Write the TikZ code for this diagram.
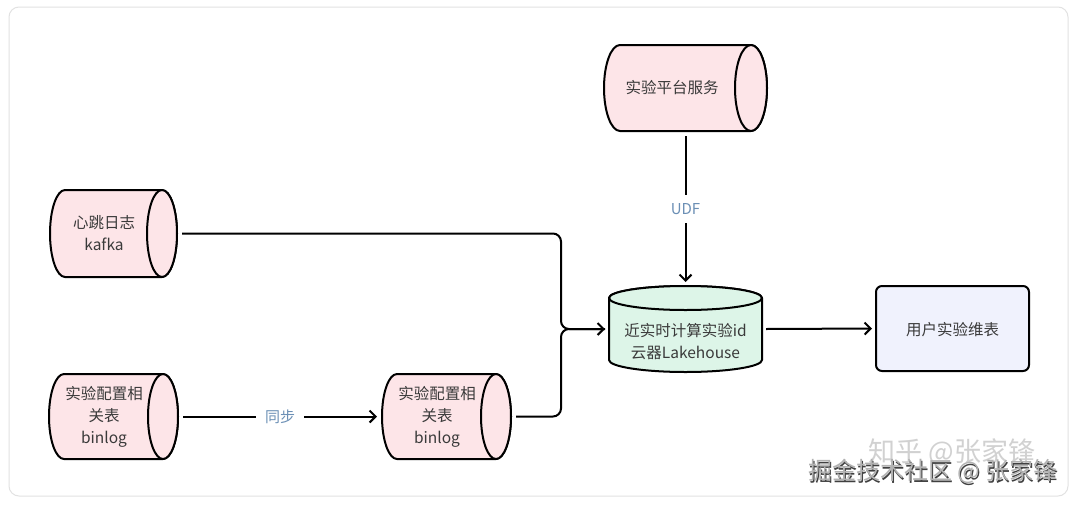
\documentclass[tikz,border=0pt]{standalone}
\usepackage{fontspec}
\setmainfont{Noto Sans CJK SC}
\usetikzlibrary{arrows.meta}
\definecolor{pinkfill}{HTML}{FDE5E8}
\definecolor{greenfill}{HTML}{DDF5E8}
\definecolor{lavfill}{HTML}{F0F2FD}
\definecolor{txt}{HTML}{3A3A3A}
\definecolor{lblc}{HTML}{6B8FB5}
\definecolor{framec}{HTML}{E2E2E2}
\tikzset{
  cylline/.style={draw=black, line width=2pt, line join=round},
  conn/.style={draw=black, line width=2pt, -{Straight Barb[length=6pt,width=12pt]}},
  plainconn/.style={draw=black, line width=2pt},
  lbl/.style={fill=white, text=lblc, font=\fontsize{15}{17}\selectfont, inner xsep=9pt, inner ysep=8pt},
  txtnode/.style={text=txt, align=center, font=\fontsize{15.5}{22}\selectfont, inner sep=0pt},
  anchorbox/.style={inner sep=0pt, outer sep=5pt}
}
% #1 name, #2 x0, #3 y0, #4 x1, #5 y1, #6 fill, #7 rx
\newcommand\hcyl[7]{%
  \pgfmathsetmacro\cxa{#2+#7}%
  \pgfmathsetmacro\cxb{#4-#7}%
  \pgfmathsetmacro\cym{(#3+#5)/2}%
  \pgfmathsetmacro\cry{(#5-#3)/2}%
  \pgfmathsetmacro\cxm{(#2+#4)/2}%
  \draw[cylline, fill=#6] (\cxa,#3) -- (\cxb,#3)
     arc[start angle=-90, end angle=90, x radius=#7, y radius=\cry]
     -- (\cxa,#5)
     arc[start angle=90, end angle=270, x radius=#7, y radius=\cry] -- cycle;
  \draw[cylline, fill=#6] (\cxb,\cym) ellipse[x radius=#7, y radius=\cry];
  \node[anchorbox, minimum width=#4-#2, minimum height=#5-#3] (#1) at (\cxm,\cym) {};
}
\begin{document}
\begin{tikzpicture}[x=1pt,y=-1pt]
\useasboundingbox (0,0) rectangle (1080,504);
\fill[white] (0,0) rectangle (1080,504);
\draw[framec, line width=1pt, rounded corners=10] (9,7) rectangle (1068,496);

% watermarks
\node[text=black!18, font=\fontsize{27}{27}\selectfont, anchor=center] (wm1) at (952,452) {知乎 @张家锋};
\node[text=black!75, font=\fontsize{24}{24}\selectfont, anchor=center] (wm2s) at (934,473) {掘金技术社区 @ 张家锋};
\node[text=black!30, font=\fontsize{24}{24}\selectfont, anchor=center] (wm2) at (932.8,471.8) {掘金技术社区 @ 张家锋};

% horizontal cylinders
\hcyl{kafka}{50}{190}{177}{277}{pinkfill}{15}
\node[txtnode] (kafkat) at (104,233.5) {心跳日志\\kafka};

\hcyl{blA}{49}{374}{178}{459}{pinkfill}{15}
\node[txtnode] (blAt) at (104,416.5) {实验配置相\\关表\\binlog};

\hcyl{blB}{382}{374}{511}{459}{pinkfill}{15}
\node[txtnode] (blBt) at (437,416.5) {实验配置相\\关表\\binlog};

\hcyl{svc}{604}{45}{767}{131}{pinkfill}{16}
\node[txtnode] (svct) at (672,88) {实验平台服务};

% vertical cylinder (lakehouse)
\draw[cylline, fill=greenfill] (609,298) -- (609,360)
   arc[start angle=180, end angle=0, x radius=76.5, y radius=12]
   -- (762,298)
   arc[start angle=0, end angle=-180, x radius=76.5, y radius=12] -- cycle;
\draw[cylline, fill=greenfill] (685.5,298) ellipse[x radius=76.5, y radius=12];
\node[anchorbox, outer sep=4pt, minimum width=153, minimum height=86] (lake) at (685.5,329) {};
\node[txtnode] (laket) at (685.5,342) {近实时计算实验id\\云器Lakehouse};

% user table box
\node[draw=black, line width=2pt, fill=lavfill, rounded corners=6pt, minimum width=153pt, minimum height=85pt, inner sep=0pt] (user) at (952.5,328.5) {};
\node[txtnode] (usert) at (952.5,330) {用户实验维表};

% connectors
\coordinate (merge) at (561,329);
\draw[plainconn, rounded corners=8pt] (kafka.east) -| (merge) -- (lake.west);
\draw[conn, rounded corners=8pt] (blB.east) -| (merge) -- (lake.west);
\draw[conn] (blA.east) -- node[lbl] (sync) {同步} (blB.west);
\draw[conn] (svc.south) -- node[lbl] (udf) {UDF} (lake.north);
\draw[conn, shorten >=3pt] (lake.east) -- (user.west);
\end{tikzpicture}
\end{document}
